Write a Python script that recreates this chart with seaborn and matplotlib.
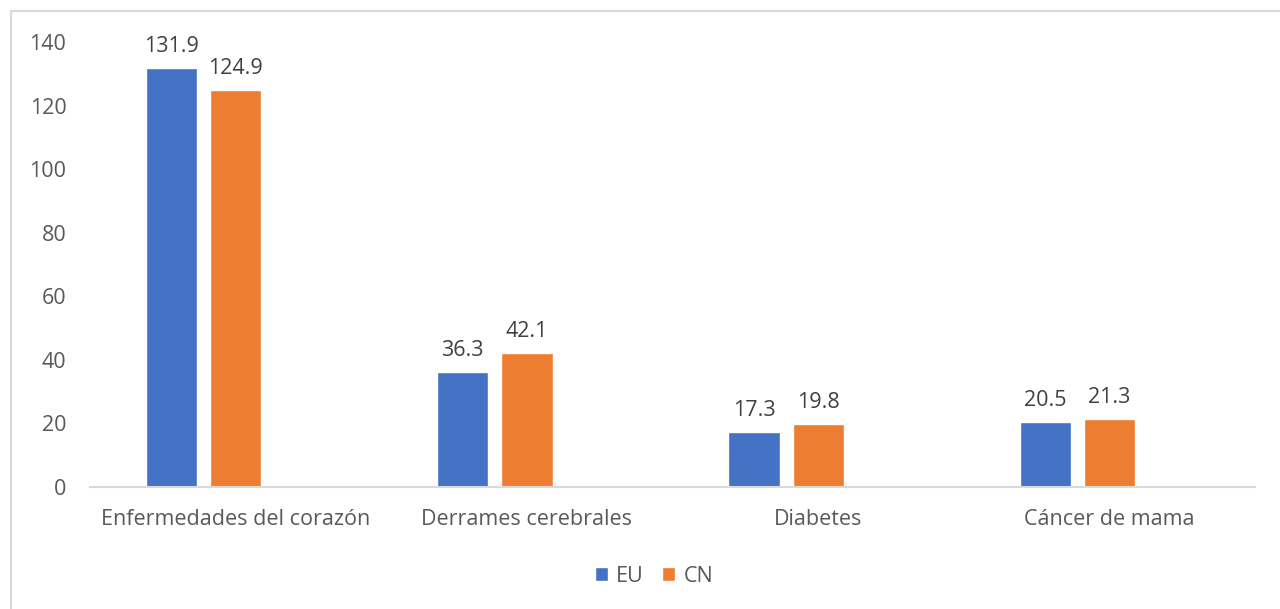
import pandas as pd
import matplotlib.pyplot as plt
import seaborn as sns
from matplotlib.lines import Line2D
from matplotlib.patches import Patch

categories = ['Enfermedades del corazón', 'Derrames cerebrales', 'Diabetes', 'Cáncer de mama']
eu_values = [131.9, 36.3, 17.3, 20.5]
cn_values = [124.9, 42.1, 19.8, 21.3]
series = ['EU', 'CN']
y_ticks = [0, 20, 40, 60, 80, 100, 120, 140]

colors = ['#4472C4', '#ED7D31', '#FFFFFF']

df = pd.DataFrame({
    'categoria': categories * 2,
    'serie': ['EU'] * len(categories) + ['CN'] * len(categories),
    'valor': eu_values + cn_values,
})

sns.set_style('white')
plt.rcParams['font.family'] = ['Open Sans', 'DejaVu Sans']

fig = plt.figure(figsize=(12.8, 6.09), dpi=100)
ax = fig.add_axes([0.0703, 0.2003, 0.9102, 0.7307])

# third (empty) level keeps the Excel-style offset of the bars
sns.barplot(
    data=df, x='categoria', y='valor', hue='serie',
    hue_order=['EU', 'CN', ' '], order=categories,
    palette=colors, width=0.66, gap=0.2, legend=False,
    saturation=1, errorbar=None, ax=ax,
)

fs = 15.5
for container in ax.containers:
    ax.bar_label(container, fmt='%.1f', padding=8, fontsize=fs, color='#404040')

ax.set_ylim(0, 140)
ax.set_yticks(y_ticks)
ax.set_xlabel('')
ax.set_ylabel('')
ax.tick_params(axis='both', length=0, labelsize=fs, labelcolor='#595959')
ax.tick_params(axis='x', pad=16)
ax.tick_params(axis='y', pad=17)

for side in ['top', 'right', 'left']:
    ax.spines[side].set_visible(False)
ax.spines['bottom'].set_color('#D9D9D9')
ax.spines['bottom'].set_linewidth(1.5)

handles = [Patch(facecolor=colors[0], label=series[0]),
           Patch(facecolor=colors[1], label=series[1])]
fig.legend(handles=handles, loc='center', bbox_to_anchor=(0.511, 0.054), ncol=2,
           frameon=False, fontsize=fs, labelcolor='#595959',
           handlelength=0.6, handleheight=0.6, handletextpad=0.4, columnspacing=0.85)

# chart area border (top and left only visible)
fig.add_artist(Line2D([11 / 1280, 1], [1 - 11 / 609, 1 - 11 / 609],
                      color='#D9D9D9', linewidth=1.5, transform=fig.transFigure))
fig.add_artist(Line2D([11 / 1280, 11 / 1280], [0, 1 - 11 / 609],
                      color='#D9D9D9', linewidth=1.5, transform=fig.transFigure))

fig.savefig('out.png', dpi=100)
